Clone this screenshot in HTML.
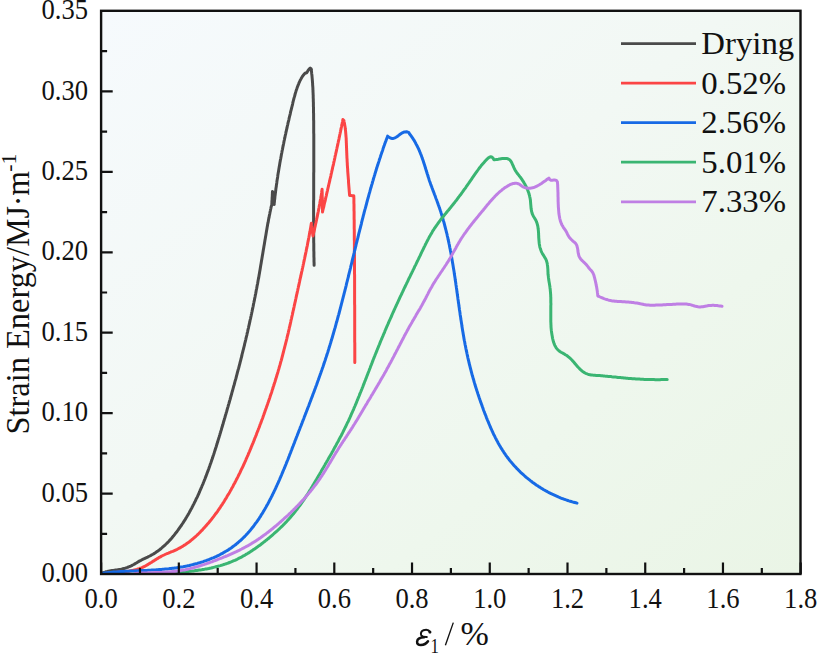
<!DOCTYPE html>
<html><head><meta charset="utf-8"><style>
html,body{margin:0;padding:0;background:#fff;width:817px;height:655px;overflow:hidden}
svg{display:block}
text{font-family:"Liberation Serif",serif;fill:#111}
</style></head><body>
<svg width="817" height="655" viewBox="0 0 817 655">
<defs><linearGradient id="bg" x1="0" y1="0" x2="1" y2="1">
<stop offset="0" stop-color="#f6fafd"/><stop offset="0.45" stop-color="#f2f8f4"/><stop offset="0.7" stop-color="#eef7ed"/><stop offset="1" stop-color="#eaf5e6"/></linearGradient></defs>
<rect x="101" y="10.5" width="700" height="563.5" fill="url(#bg)"/>
<g fill="none" stroke-width="3.0" stroke-linejoin="round" stroke-linecap="round">
<path d="M101.5,573.3 L102.6,572.8 L103.8,572.4 L104.9,572.1 L106.1,571.7 L107.3,571.5 L108.4,571.2 L109.6,571.0 L110.8,570.8 L112.0,570.6 L113.3,570.5 L114.5,570.3 L115.7,570.1 L116.9,570.0 L118.1,569.8 L119.3,569.6 L120.5,569.4 L121.7,569.1 L122.8,568.8 L124.0,568.5 L125.1,568.2 L126.2,567.8 L127.4,567.4 L128.5,567.0 L129.5,566.5 L130.6,566.1 L131.7,565.6 L132.7,565.0 L133.8,564.5 L134.8,563.9 L135.8,563.3 L136.8,562.7 L137.9,562.0 L138.9,561.4 L139.9,560.8 L141.0,560.3 L142.1,559.7 L143.2,559.2 L144.3,558.7 L145.4,558.1 L146.5,557.6 L147.6,557.1 L148.7,556.5 L149.8,556.0 L150.9,555.4 L151.9,554.8 L153.0,554.2 L154.0,553.6 L155.0,553.0 L156.0,552.3 L157.0,551.6 L158.0,550.9 L158.9,550.2 L159.9,549.5 L160.8,548.8 L161.7,548.0 L162.6,547.2 L163.5,546.4 L164.4,545.6 L165.3,544.8 L166.1,544.0 L167.0,543.2 L167.8,542.3 L168.7,541.5 L169.5,540.6 L170.3,539.7 L171.1,538.8 L171.9,537.9 L172.6,537.0 L173.4,536.1 L174.2,535.1 L174.9,534.2 L175.6,533.2 L176.4,532.3 L177.1,531.3 L177.8,530.4 L178.5,529.4 L179.2,528.4 L179.9,527.4 L180.6,526.4 L181.3,525.5 L181.9,524.5 L182.6,523.5 L183.3,522.4 L183.9,521.4 L184.6,520.4 L185.2,519.4 L185.8,518.4 L186.5,517.3 L187.1,516.3 L187.7,515.3 L188.3,514.2 L188.9,513.2 L189.5,512.1 L190.1,511.1 L190.6,510.0 L191.2,508.9 L191.8,507.9 L192.3,506.8 L192.9,505.7 L193.4,504.7 L194.0,503.6 L194.5,502.5 L195.1,501.4 L195.6,500.3 L196.1,499.2 L196.6,498.2 L197.2,497.1 L197.7,496.0 L198.2,494.9 L198.7,493.8 L199.2,492.7 L199.7,491.6 L200.1,490.4 L200.6,489.3 L201.1,488.2 L201.6,487.1 L202.0,486.0 L202.5,484.9 L203.0,483.8 L203.4,482.7 L203.9,481.5 L204.3,480.4 L204.8,479.3 L205.2,478.2 L205.6,477.1 L206.1,475.9 L206.5,474.8 L206.9,473.7 L207.3,472.6 L207.8,471.4 L208.2,470.3 L208.6,469.2 L209.0,468.0 L209.4,466.9 L209.8,465.8 L210.2,464.6 L210.6,463.5 L211.0,462.4 L211.4,461.2 L211.8,460.1 L212.2,458.9 L212.6,457.8 L212.9,456.7 L213.3,455.5 L213.7,454.4 L214.1,453.2 L214.4,452.1 L214.8,450.9 L215.2,449.8 L215.5,448.7 L215.9,447.5 L216.3,446.4 L216.6,445.2 L217.0,444.1 L217.3,442.9 L217.7,441.8 L218.0,440.6 L218.4,439.5 L218.7,438.3 L219.1,437.2 L219.4,436.0 L219.8,434.9 L220.1,433.7 L220.5,432.5 L220.8,431.4 L221.2,430.2 L221.5,429.1 L221.8,427.9 L222.2,426.8 L222.5,425.6 L222.9,424.5 L223.2,423.3 L223.5,422.1 L223.9,421.0 L224.2,419.8 L224.5,418.7 L224.9,417.5 L225.2,416.4 L225.5,415.2 L225.9,414.0 L226.2,412.9 L226.6,411.7 L226.9,410.6 L227.2,409.4 L227.5,408.3 L227.9,407.1 L228.2,405.9 L228.5,404.8 L228.9,403.6 L229.2,402.5 L229.5,401.3 L229.9,400.1 L230.2,399.0 L230.5,397.8 L230.8,396.7 L231.2,395.5 L231.5,394.3 L231.8,393.2 L232.1,392.0 L232.5,390.8 L232.8,389.7 L233.1,388.5 L233.4,387.4 L233.7,386.2 L234.1,385.0 L234.4,383.9 L234.7,382.7 L235.0,381.5 L235.3,380.4 L235.7,379.2 L236.0,378.1 L236.3,376.9 L236.6,375.7 L236.9,374.6 L237.2,373.4 L237.5,372.2 L237.8,371.1 L238.1,369.9 L238.5,368.7 L238.8,367.6 L239.1,366.4 L239.4,365.2 L239.7,364.1 L240.0,362.9 L240.3,361.7 L240.6,360.6 L240.9,359.4 L241.2,358.2 L241.5,357.1 L241.8,355.9 L242.0,354.7 L242.3,353.5 L242.6,352.4 L242.9,351.2 L243.2,350.0 L243.5,348.9 L243.8,347.7 L244.1,346.5 L244.4,345.4 L244.6,344.2 L244.9,343.0 L245.2,341.8 L245.5,340.7 L245.8,339.5 L246.0,338.3 L246.3,337.2 L246.6,336.0 L246.9,334.8 L247.1,333.6 L247.4,332.5 L247.7,331.3 L247.9,330.1 L248.2,328.9 L248.5,327.8 L248.7,326.6 L249.0,325.4 L249.3,324.2 L249.5,323.1 L249.8,321.9 L250.0,320.7 L250.3,319.5 L250.6,318.3 L250.8,317.2 L251.1,316.0 L251.3,314.8 L251.6,313.6 L251.8,312.5 L252.1,311.3 L252.3,310.1 L252.6,308.9 L252.8,307.7 L253.1,306.6 L253.3,305.4 L253.5,304.2 L253.8,303.0 L254.0,301.8 L254.3,300.7 L254.5,299.5 L254.7,298.3 L255.0,297.1 L255.2,295.9 L255.4,294.8 L255.7,293.6 L255.9,292.4 L256.1,291.2 L256.3,290.0 L256.6,288.8 L256.8,287.7 L257.0,286.5 L257.2,285.3 L257.5,284.1 L257.7,282.9 L257.9,281.7 L258.1,280.5 L258.3,279.4 L258.6,278.2 L258.8,277.0 L259.0,275.8 L259.2,274.6 L259.4,273.4 L259.6,272.2 L259.8,271.0 L260.0,269.9 L260.2,268.7 L260.4,267.5 L260.6,266.3 L260.8,265.1 L261.0,263.9 L261.2,262.7 L261.4,261.5 L261.6,260.3 L261.8,259.2 L262.0,258.0 L262.2,256.8 L262.4,255.6 L262.6,254.4 L262.8,253.2 L263.0,252.0 L263.2,250.8 L263.4,249.6 L263.6,248.5 L263.8,247.3 L264.0,246.1 L264.2,244.9 L264.4,243.7 L264.6,242.5 L264.8,241.3 L265.0,240.1 L265.2,238.9 L265.4,237.8 L265.6,236.6 L265.8,235.4 L266.0,234.2 L266.2,233.0 L266.4,231.8 L266.6,230.6 L266.8,229.5 L267.0,228.3 L267.2,227.1 L267.4,225.9 L267.6,224.7 L267.8,223.6 L268.1,222.4 L268.3,221.2 L268.5,220.0 L268.7,218.8 L269.0,217.7 L269.2,216.5 L269.4,215.3 L269.7,214.1 L269.9,213.0 L270.1,211.8 L270.4,210.6 L270.6,209.5 L270.9,208.3 L271.1,207.1 L271.4,206.0 L271.8,204.9 L271.8,203.8 L271.9,202.7 L271.9,201.5 L272.0,200.4 L272.1,199.3 L272.1,198.2 L272.2,197.1 L272.3,196.0 L272.3,194.8 L272.4,193.7 L272.4,192.6 L272.5,191.5 L272.6,192.6 L272.8,193.7 L272.9,194.8 L273.1,195.8 L273.2,196.9 L273.4,198.0 L273.5,199.1 L273.6,200.2 L273.8,201.2 L273.9,202.3 L274.1,203.4 L274.2,204.5 L274.2,203.3 L274.4,202.1 L274.5,200.9 L274.6,199.7 L274.8,198.4 L274.9,197.2 L275.0,196.0 L275.2,194.8 L275.3,193.6 L275.5,192.4 L275.6,191.2 L275.8,190.0 L275.9,188.7 L276.1,187.5 L276.3,186.3 L276.4,185.1 L276.6,183.9 L276.8,182.7 L276.9,181.5 L277.1,180.3 L277.3,179.1 L277.5,177.9 L277.7,176.7 L277.8,175.5 L278.0,174.3 L278.2,173.1 L278.4,171.9 L278.6,170.7 L278.8,169.5 L279.0,168.3 L279.2,167.1 L279.4,165.9 L279.6,164.7 L279.8,163.5 L280.0,162.3 L280.2,161.2 L280.4,160.0 L280.7,158.8 L280.9,157.6 L281.1,156.4 L281.3,155.2 L281.5,154.0 L281.8,152.8 L282.0,151.6 L282.2,150.4 L282.5,149.3 L282.7,148.1 L282.9,146.9 L283.2,145.7 L283.4,144.5 L283.7,143.3 L283.9,142.1 L284.1,140.9 L284.4,139.8 L284.6,138.6 L284.9,137.4 L285.1,136.2 L285.4,135.0 L285.7,133.8 L285.9,132.6 L286.2,131.4 L286.4,130.3 L286.7,129.1 L287.0,127.9 L287.2,126.7 L287.5,125.5 L287.8,124.3 L288.0,123.1 L288.3,121.9 L288.6,120.8 L288.9,119.6 L289.1,118.4 L289.4,117.2 L289.7,116.0 L290.0,114.8 L290.3,113.6 L290.5,112.4 L290.8,111.2 L291.1,110.1 L291.4,108.9 L291.7,107.7 L292.0,106.5 L292.3,105.3 L292.6,104.1 L292.8,102.9 L293.1,101.7 L293.4,100.5 L293.7,99.3 L294.0,98.1 L294.4,96.9 L294.7,95.8 L295.0,94.6 L295.3,93.4 L295.7,92.2 L296.0,91.1 L296.4,89.9 L296.8,88.8 L297.2,87.6 L297.6,86.5 L298.0,85.4 L298.5,84.3 L298.9,83.2 L299.4,82.1 L299.9,81.0 L300.4,79.9 L301.0,78.9 L301.5,77.9 L302.1,76.9 L302.8,75.9 L303.5,75.0 L304.2,74.1 L305.0,73.3 L306.6,72.8 L307.4,71.6 L308.2,70.3 L309.1,69.0 L310.2,68.0 L311.2,68.9 L311.3,70.1 L311.5,71.3 L311.6,72.5 L311.7,73.7 L311.9,74.9 L312.0,76.1 L312.1,77.3 L312.2,78.5 L312.3,79.7 L312.4,80.9 L312.5,82.1 L312.6,83.3 L312.6,84.5 L312.7,85.7 L312.8,86.9 L312.9,88.1 L312.9,89.3 L313.0,90.5 L313.0,91.8 L313.1,93.0 L313.1,94.2 L313.2,95.4 L313.2,96.6 L313.2,97.8 L313.3,99.0 L313.3,100.2 L313.3,101.4 L313.4,102.6 L313.4,103.9 L313.4,105.1 L313.4,106.3 L313.5,107.5 L313.5,108.7 L313.5,109.9 L313.5,111.1 L313.5,112.3 L313.6,113.6 L313.6,114.8 L313.6,116.0 L313.6,117.2 L313.6,118.4 L313.6,119.6 L313.7,120.8 L313.7,122.1 L313.7,123.3 L313.7,124.5 L313.7,125.7 L313.7,126.9 L313.7,128.1 L313.7,129.3 L313.7,130.6 L313.7,131.8 L313.7,133.0 L313.8,134.2 L313.8,135.4 L313.8,136.6 L313.8,137.8 L313.8,139.0 L313.8,140.3 L313.8,141.5 L313.8,142.7 L313.8,143.9 L313.8,145.1 L313.8,146.3 L313.8,147.5 L313.8,148.8 L313.8,150.0 L313.8,151.2 L313.8,152.4 L313.8,153.6 L313.8,154.8 L313.8,156.0 L313.8,157.3 L313.8,158.5 L313.8,159.7 L313.8,160.9 L313.8,162.1 L313.8,163.3 L313.8,164.6 L313.8,165.8 L313.8,167.0 L313.8,168.2 L313.8,169.4 L313.8,170.6 L313.8,171.8 L313.7,173.1 L313.7,174.3 L313.7,175.5 L313.7,176.7 L313.7,177.9 L313.7,179.1 L313.7,180.3 L313.7,181.6 L313.7,182.8 L313.7,184.0 L313.7,185.2 L313.7,186.4 L313.7,187.6 L313.7,188.8 L313.7,190.1 L313.7,191.3 L313.7,192.5 L313.7,193.7 L313.7,194.9 L313.7,196.1 L313.7,197.3 L313.7,198.6 L313.7,199.8 L313.6,201.0 L313.6,202.2 L313.6,203.4 L313.6,204.6 L313.6,205.8 L313.6,207.1 L313.6,208.3 L313.6,209.5 L313.6,210.7 L313.6,211.9 L313.6,213.1 L313.6,214.3 L313.6,215.6 L313.6,216.8 L313.6,218.0 L313.6,219.2 L313.6,220.4 L313.6,221.6 L313.6,222.8 L313.6,224.1 L313.6,225.3 L313.6,226.5 L313.7,227.7 L313.7,228.9 L313.7,230.1 L313.7,231.3 L313.7,232.6 L313.7,233.8 L313.7,235.0 L313.7,236.2 L313.7,237.4 L313.7,238.6 L313.7,239.8 L313.7,241.0 L313.7,242.3 L313.8,243.5 L313.8,244.7 L313.8,245.9 L313.8,247.1 L313.8,248.3 L313.8,249.5 L313.8,250.7 L313.9,252.0 L313.9,253.2 L313.9,254.4 L313.9,255.6 L313.9,256.8 L314.0,258.0 L314.0,259.2 L314.0,260.4 L314.0,261.7 L314.1,262.9 L314.1,264.1 L314.1,265.3" stroke="#4a4a4a"/>
<path d="M107.0,573.2 L108.2,573.0 L109.3,572.9 L110.5,572.8 L111.7,572.7 L112.9,572.6 L114.1,572.5 L115.3,572.4 L116.5,572.3 L117.7,572.2 L118.9,572.1 L120.1,572.0 L121.4,571.9 L122.6,571.8 L123.8,571.7 L125.0,571.6 L126.2,571.5 L127.5,571.3 L128.7,571.2 L129.9,571.0 L131.1,570.8 L132.2,570.6 L133.4,570.3 L134.6,570.0 L135.7,569.7 L136.9,569.4 L138.0,569.0 L139.2,568.7 L140.3,568.2 L141.4,567.8 L142.5,567.3 L143.5,566.8 L144.6,566.3 L145.7,565.8 L146.7,565.2 L147.7,564.6 L148.7,564.0 L149.7,563.4 L150.7,562.8 L151.7,562.2 L152.7,561.5 L153.7,560.9 L154.7,560.2 L155.7,559.6 L156.7,559.0 L157.7,558.4 L158.7,557.7 L159.8,557.2 L160.8,556.6 L161.8,556.0 L162.9,555.5 L164.0,555.0 L165.0,554.5 L166.1,554.0 L167.2,553.5 L168.4,553.1 L169.5,552.6 L170.6,552.2 L171.7,551.7 L172.8,551.3 L173.9,550.8 L175.0,550.3 L176.1,549.8 L177.2,549.3 L178.3,548.7 L179.4,548.2 L180.4,547.6 L181.4,547.0 L182.5,546.4 L183.5,545.8 L184.5,545.1 L185.5,544.5 L186.5,543.8 L187.5,543.1 L188.4,542.4 L189.4,541.7 L190.3,541.0 L191.3,540.2 L192.2,539.4 L193.1,538.7 L194.0,537.9 L194.9,537.1 L195.8,536.3 L196.7,535.5 L197.6,534.6 L198.5,533.8 L199.3,533.0 L200.2,532.1 L201.0,531.2 L201.9,530.4 L202.7,529.5 L203.5,528.6 L204.3,527.7 L205.1,526.8 L206.0,525.9 L206.7,525.0 L207.5,524.1 L208.3,523.2 L209.1,522.3 L209.9,521.3 L210.6,520.4 L211.4,519.5 L212.1,518.5 L212.8,517.6 L213.6,516.6 L214.3,515.6 L215.0,514.7 L215.7,513.7 L216.5,512.7 L217.2,511.8 L217.9,510.8 L218.5,509.8 L219.2,508.8 L219.9,507.8 L220.6,506.8 L221.2,505.8 L221.9,504.8 L222.6,503.8 L223.2,502.8 L223.9,501.8 L224.5,500.8 L225.1,499.7 L225.8,498.7 L226.4,497.7 L227.0,496.6 L227.6,495.6 L228.2,494.6 L228.9,493.5 L229.5,492.5 L230.1,491.4 L230.6,490.4 L231.2,489.4 L231.8,488.3 L232.4,487.3 L233.0,486.2 L233.5,485.1 L234.1,484.1 L234.7,483.0 L235.2,482.0 L235.8,480.9 L236.3,479.8 L236.9,478.8 L237.4,477.7 L238.0,476.6 L238.5,475.5 L239.0,474.5 L239.6,473.4 L240.1,472.3 L240.6,471.2 L241.1,470.1 L241.6,469.0 L242.2,468.0 L242.7,466.9 L243.2,465.8 L243.7,464.7 L244.2,463.6 L244.7,462.5 L245.2,461.4 L245.7,460.3 L246.1,459.2 L246.6,458.1 L247.1,457.0 L247.6,455.9 L248.1,454.8 L248.5,453.7 L249.0,452.6 L249.5,451.5 L249.9,450.4 L250.4,449.3 L250.9,448.2 L251.3,447.0 L251.8,445.9 L252.2,444.8 L252.7,443.7 L253.2,442.6 L253.6,441.5 L254.1,440.4 L254.5,439.2 L254.9,438.1 L255.4,437.0 L255.8,435.9 L256.3,434.8 L256.7,433.6 L257.1,432.5 L257.6,431.4 L258.0,430.3 L258.4,429.1 L258.9,428.0 L259.3,426.9 L259.7,425.8 L260.1,424.6 L260.6,423.5 L261.0,422.4 L261.4,421.3 L261.8,420.1 L262.3,419.0 L262.7,417.9 L263.1,416.7 L263.5,415.6 L263.9,414.5 L264.3,413.3 L264.7,412.2 L265.1,411.1 L265.5,409.9 L265.9,408.8 L266.3,407.7 L266.7,406.5 L267.1,405.4 L267.5,404.3 L267.9,403.1 L268.3,402.0 L268.7,400.8 L269.1,399.7 L269.5,398.6 L269.9,397.4 L270.2,396.3 L270.6,395.1 L271.0,394.0 L271.4,392.9 L271.8,391.7 L272.1,390.6 L272.5,389.4 L272.9,388.3 L273.2,387.1 L273.6,386.0 L274.0,384.8 L274.3,383.7 L274.7,382.5 L275.1,381.4 L275.4,380.2 L275.8,379.1 L276.1,377.9 L276.5,376.8 L276.8,375.6 L277.2,374.5 L277.5,373.3 L277.9,372.2 L278.2,371.0 L278.5,369.9 L278.9,368.7 L279.2,367.6 L279.5,366.4 L279.9,365.2 L280.2,364.1 L280.5,362.9 L280.8,361.8 L281.2,360.6 L281.5,359.5 L281.8,358.3 L282.1,357.1 L282.4,356.0 L282.7,354.8 L283.0,353.6 L283.3,352.5 L283.6,351.3 L283.9,350.2 L284.2,349.0 L284.5,347.8 L284.8,346.7 L285.1,345.5 L285.4,344.3 L285.7,343.2 L286.0,342.0 L286.3,340.8 L286.6,339.7 L286.9,338.5 L287.1,337.3 L287.4,336.1 L287.7,335.0 L288.0,333.8 L288.3,332.6 L288.5,331.5 L288.8,330.3 L289.1,329.1 L289.3,327.9 L289.6,326.8 L289.9,325.6 L290.2,324.4 L290.4,323.3 L290.7,322.1 L290.9,320.9 L291.2,319.7 L291.5,318.6 L291.7,317.4 L292.0,316.2 L292.3,315.0 L292.5,313.9 L292.8,312.7 L293.0,311.5 L293.3,310.3 L293.6,309.2 L293.8,308.0 L294.1,306.8 L294.3,305.6 L294.6,304.5 L294.8,303.3 L295.1,302.1 L295.4,300.9 L295.6,299.7 L295.9,298.6 L296.1,297.4 L296.4,296.2 L296.6,295.0 L296.9,293.9 L297.2,292.7 L297.4,291.5 L297.7,290.3 L297.9,289.2 L298.2,288.0 L298.4,286.8 L298.7,285.6 L299.0,284.5 L299.2,283.3 L299.5,282.1 L299.7,280.9 L300.0,279.7 L300.2,278.6 L300.5,277.4 L300.8,276.2 L301.0,275.0 L301.3,273.9 L301.5,272.7 L301.8,271.5 L302.1,270.3 L302.3,269.2 L302.6,268.0 L302.8,266.8 L303.1,265.6 L303.3,264.5 L303.6,263.3 L303.8,262.1 L304.1,260.9 L304.3,259.7 L304.6,258.6 L304.8,257.4 L305.1,256.2 L305.3,255.0 L305.6,253.9 L305.8,252.7 L306.1,251.5 L306.3,250.3 L306.5,249.1 L306.8,248.0 L307.0,246.8 L307.3,245.6 L307.5,244.4 L307.7,243.2 L307.9,242.1 L308.2,240.9 L308.4,239.7 L308.6,238.5 L308.9,237.3 L309.1,236.2 L309.3,235.0 L309.5,233.8 L309.7,232.6 L310.0,231.4 L310.2,230.3 L310.4,229.1 L310.6,227.9 L310.8,226.7 L311.0,225.5 L311.2,224.3 L311.4,223.2 L311.3,224.2 L311.4,225.2 L311.6,226.3 L311.7,227.4 L311.9,228.5 L312.1,229.6 L312.2,230.6 L312.4,231.7 L312.5,232.8 L312.7,233.8 L312.8,234.9 L313.0,236.0 L313.3,234.8 L313.5,233.5 L313.8,232.3 L314.1,231.1 L314.4,229.9 L314.6,228.6 L314.9,227.4 L315.2,226.2 L315.4,225.0 L315.7,223.7 L316.0,222.5 L316.2,221.3 L316.5,220.1 L316.7,218.8 L317.0,217.6 L317.3,216.4 L317.5,215.1 L317.8,213.9 L318.0,212.7 L318.3,211.5 L318.5,210.2 L318.7,209.0 L319.0,207.8 L319.2,206.5 L319.4,205.3 L319.7,204.1 L319.9,202.8 L320.1,201.6 L320.3,200.4 L320.6,199.1 L320.8,197.9 L321.0,196.6 L321.2,195.4 L321.4,194.2 L321.6,192.9 L321.7,191.7 L321.9,190.4 L322.1,189.2 L322.1,190.3 L322.1,191.4 L322.2,192.5 L322.2,193.6 L322.2,194.7 L322.2,195.7 L322.2,196.8 L322.3,197.9 L322.3,199.0 L322.3,200.1 L322.3,201.2 L322.3,202.3 L322.3,203.4 L322.4,204.5 L322.4,205.6 L322.4,206.6 L322.4,207.7 L322.4,208.8 L322.5,209.9 L322.5,211.0 L322.5,212.1 L322.7,210.9 L323.0,209.7 L323.3,208.5 L323.6,207.3 L323.9,206.1 L324.1,204.9 L324.4,203.7 L324.7,202.5 L325.0,201.3 L325.3,200.1 L325.5,198.9 L325.8,197.7 L326.1,196.5 L326.4,195.3 L326.6,194.1 L326.9,192.9 L327.2,191.7 L327.5,190.5 L327.7,189.3 L328.0,188.1 L328.3,186.9 L328.6,185.7 L328.8,184.5 L329.1,183.3 L329.4,182.1 L329.7,180.9 L329.9,179.7 L330.2,178.5 L330.5,177.3 L330.8,176.1 L331.0,174.9 L331.3,173.7 L331.6,172.5 L331.8,171.3 L332.1,170.1 L332.4,168.9 L332.6,167.7 L332.9,166.5 L333.2,165.3 L333.5,164.1 L333.7,162.9 L334.0,161.7 L334.3,160.5 L334.5,159.3 L334.8,158.1 L335.0,156.9 L335.3,155.7 L335.6,154.5 L335.8,153.3 L336.1,152.1 L336.4,150.9 L336.6,149.7 L336.9,148.5 L337.1,147.3 L337.4,146.1 L337.7,144.9 L337.9,143.7 L338.2,142.5 L338.4,141.3 L338.7,140.1 L339.0,138.8 L339.2,137.6 L339.5,136.4 L339.7,135.2 L340.0,134.0 L340.2,132.8 L340.5,131.6 L340.7,130.4 L341.0,129.2 L341.2,128.0 L341.5,126.8 L341.7,125.6 L342.0,124.4 L342.2,123.2 L342.5,122.0 L342.7,120.8 L342.9,119.6 L343.9,120.6 L344.1,121.8 L344.4,123.0 L344.6,124.2 L344.8,125.4 L345.0,126.6 L345.2,127.8 L345.3,129.0 L345.5,130.2 L345.6,131.4 L345.7,132.6 L345.8,133.8 L345.9,135.1 L346.0,136.3 L346.1,137.5 L346.2,138.7 L346.2,140.0 L346.3,141.2 L346.3,142.4 L346.4,143.7 L346.4,144.9 L346.5,146.1 L346.5,147.4 L346.6,148.6 L346.6,149.8 L346.7,151.1 L346.7,152.3 L346.8,153.6 L346.8,154.8 L346.9,156.0 L346.9,157.3 L347.0,158.5 L347.1,159.7 L347.1,161.0 L347.2,162.2 L347.3,163.5 L347.3,164.7 L347.4,165.9 L347.5,167.2 L347.6,168.4 L347.7,169.6 L347.7,170.9 L347.8,172.1 L347.9,173.3 L348.0,174.6 L348.1,175.8 L348.2,177.0 L348.3,178.3 L348.4,179.5 L348.5,180.7 L348.5,182.0 L348.6,183.2 L348.7,184.4 L348.8,185.7 L348.9,186.9 L349.0,188.1 L349.1,189.3 L349.2,190.6 L349.3,191.8 L349.4,193.0 L349.5,194.3 L349.6,195.5 L350.9,195.6 L352.4,195.7 L353.8,195.8 L353.8,197.0 L353.9,198.2 L353.9,199.4 L353.9,200.7 L353.9,201.9 L353.9,203.1 L354.0,204.3 L354.0,205.5 L354.0,206.7 L354.0,208.0 L354.0,209.2 L354.0,210.4 L354.1,211.6 L354.1,212.8 L354.1,214.1 L354.1,215.3 L354.1,216.5 L354.1,217.7 L354.1,218.9 L354.2,220.1 L354.2,221.4 L354.2,222.6 L354.2,223.8 L354.2,225.0 L354.2,226.2 L354.2,227.4 L354.2,228.7 L354.3,229.9 L354.3,231.1 L354.3,232.3 L354.3,233.5 L354.3,234.7 L354.3,236.0 L354.3,237.2 L354.3,238.4 L354.3,239.6 L354.4,240.8 L354.4,242.0 L354.4,243.3 L354.4,244.5 L354.4,245.7 L354.4,246.9 L354.4,248.1 L354.4,249.3 L354.4,250.6 L354.4,251.8 L354.4,253.0 L354.4,254.2 L354.5,255.4 L354.5,256.6 L354.5,257.9 L354.5,259.1 L354.5,260.3 L354.5,261.5 L354.5,262.7 L354.5,263.9 L354.5,265.2 L354.5,266.4 L354.5,267.6 L354.5,268.8 L354.5,270.0 L354.5,271.2 L354.5,272.5 L354.5,273.7 L354.6,274.9 L354.6,276.1 L354.6,277.3 L354.6,278.5 L354.6,279.8 L354.6,281.0 L354.6,282.2 L354.6,283.4 L354.6,284.6 L354.6,285.8 L354.6,287.1 L354.6,288.3 L354.6,289.5 L354.6,290.7 L354.6,291.9 L354.6,293.1 L354.6,294.4 L354.6,295.6 L354.6,296.8 L354.6,298.0 L354.6,299.2 L354.6,300.4 L354.6,301.7 L354.6,302.9 L354.6,304.1 L354.7,305.3 L354.7,306.5 L354.7,307.7 L354.7,309.0 L354.7,310.2 L354.7,311.4 L354.7,312.6 L354.7,313.8 L354.7,315.0 L354.7,316.3 L354.7,317.5 L354.7,318.7 L354.7,319.9 L354.7,321.1 L354.7,322.3 L354.7,323.6 L354.7,324.8 L354.7,326.0 L354.7,327.2 L354.7,328.4 L354.7,329.6 L354.7,330.9 L354.7,332.1 L354.7,333.3 L354.7,334.5 L354.7,335.7 L354.7,336.9 L354.7,338.2 L354.7,339.4 L354.7,340.6 L354.7,341.8 L354.8,343.0 L354.8,344.2 L354.8,345.5 L354.8,346.7 L354.8,347.9 L354.8,349.1 L354.8,350.3 L354.8,351.5 L354.8,352.8 L354.8,354.0 L354.8,355.2 L354.8,356.4 L354.8,357.6 L354.8,358.8 L354.8,360.1 L354.8,361.3 L354.8,362.5" stroke="#fb4545"/>
<path d="M101.7,573.4 L102.9,573.3 L104.0,573.1 L105.2,573.0 L106.3,572.8 L107.5,572.7 L108.7,572.6 L109.8,572.5 L111.0,572.4 L112.2,572.2 L113.3,572.1 L114.5,572.0 L115.7,572.0 L116.9,571.9 L118.1,571.8 L119.2,571.7 L120.4,571.6 L121.6,571.5 L122.8,571.5 L124.0,571.4 L125.2,571.3 L126.4,571.3 L127.6,571.2 L128.8,571.2 L130.0,571.1 L131.2,571.0 L132.4,571.0 L133.6,570.9 L134.8,570.9 L136.0,570.8 L137.2,570.8 L138.4,570.7 L139.6,570.7 L140.8,570.6 L142.1,570.6 L143.3,570.5 L144.5,570.5 L145.7,570.4 L146.9,570.4 L148.1,570.3 L149.3,570.2 L150.6,570.2 L151.8,570.1 L153.0,570.0 L154.2,570.0 L155.4,569.9 L156.6,569.8 L157.8,569.7 L159.1,569.6 L160.3,569.5 L161.5,569.4 L162.7,569.3 L163.9,569.2 L165.1,569.1 L166.4,569.0 L167.6,568.9 L168.8,568.8 L170.0,568.6 L171.2,568.5 L172.4,568.3 L173.6,568.2 L174.8,568.0 L176.0,567.9 L177.2,567.7 L178.4,567.5 L179.6,567.3 L180.8,567.1 L182.0,566.9 L183.2,566.7 L184.4,566.4 L185.6,566.2 L186.8,566.0 L188.0,565.7 L189.2,565.5 L190.4,565.2 L191.6,564.9 L192.7,564.6 L193.9,564.3 L195.1,564.0 L196.2,563.7 L197.4,563.4 L198.6,563.0 L199.7,562.7 L200.9,562.3 L202.0,562.0 L203.2,561.6 L204.3,561.2 L205.4,560.8 L206.6,560.4 L207.7,560.0 L208.8,559.6 L209.9,559.1 L211.0,558.7 L212.1,558.2 L213.2,557.8 L214.3,557.3 L215.4,556.8 L216.5,556.3 L217.5,555.8 L218.6,555.3 L219.7,554.8 L220.7,554.2 L221.8,553.7 L222.8,553.1 L223.8,552.5 L224.8,551.9 L225.9,551.3 L226.9,550.7 L227.9,550.1 L228.9,549.5 L229.8,548.8 L230.8,548.2 L231.8,547.5 L232.7,546.8 L233.7,546.1 L234.6,545.4 L235.5,544.7 L236.4,544.0 L237.3,543.2 L238.2,542.5 L239.1,541.7 L240.0,540.9 L240.9,540.2 L241.7,539.4 L242.6,538.5 L243.4,537.7 L244.3,536.9 L245.1,536.0 L245.9,535.2 L246.7,534.3 L247.5,533.5 L248.3,532.6 L249.1,531.7 L249.8,530.8 L250.6,529.9 L251.4,528.9 L252.1,528.0 L252.9,527.1 L253.6,526.1 L254.3,525.2 L255.0,524.2 L255.7,523.2 L256.4,522.3 L257.1,521.3 L257.8,520.3 L258.5,519.3 L259.2,518.3 L259.8,517.3 L260.5,516.3 L261.1,515.2 L261.8,514.2 L262.4,513.2 L263.1,512.1 L263.7,511.1 L264.3,510.0 L264.9,509.0 L265.5,507.9 L266.1,506.9 L266.7,505.8 L267.3,504.7 L267.9,503.7 L268.5,502.6 L269.1,501.5 L269.6,500.4 L270.2,499.3 L270.8,498.2 L271.3,497.1 L271.9,496.0 L272.4,495.0 L272.9,493.9 L273.5,492.8 L274.0,491.7 L274.5,490.6 L275.1,489.5 L275.6,488.4 L276.1,487.2 L276.6,486.1 L277.1,485.0 L277.6,483.9 L278.1,482.8 L278.6,481.7 L279.1,480.6 L279.6,479.5 L280.0,478.4 L280.5,477.3 L281.0,476.2 L281.5,475.1 L281.9,474.0 L282.4,472.8 L282.9,471.7 L283.3,470.6 L283.8,469.5 L284.3,468.4 L284.7,467.3 L285.2,466.2 L285.6,465.1 L286.1,464.0 L286.5,462.8 L287.0,461.7 L287.4,460.6 L287.9,459.5 L288.3,458.4 L288.7,457.3 L289.2,456.1 L289.6,455.0 L290.0,453.9 L290.5,452.8 L290.9,451.7 L291.3,450.6 L291.8,449.5 L292.2,448.3 L292.6,447.2 L293.1,446.1 L293.5,445.0 L293.9,443.9 L294.4,442.8 L294.8,441.6 L295.2,440.5 L295.7,439.4 L296.1,438.3 L296.5,437.2 L297.0,436.0 L297.4,434.9 L297.8,433.8 L298.3,432.7 L298.7,431.6 L299.1,430.5 L299.6,429.3 L300.0,428.2 L300.4,427.1 L300.9,426.0 L301.3,424.9 L301.7,423.8 L302.2,422.6 L302.6,421.5 L303.0,420.4 L303.5,419.3 L303.9,418.2 L304.3,417.0 L304.8,415.9 L305.2,414.8 L305.6,413.7 L306.1,412.6 L306.5,411.4 L306.9,410.3 L307.4,409.2 L307.8,408.1 L308.2,407.0 L308.7,405.8 L309.1,404.7 L309.5,403.6 L309.9,402.5 L310.4,401.4 L310.8,400.2 L311.2,399.1 L311.6,398.0 L312.1,396.9 L312.5,395.7 L312.9,394.6 L313.3,393.5 L313.8,392.4 L314.2,391.2 L314.6,390.1 L315.0,389.0 L315.4,387.9 L315.8,386.7 L316.3,385.6 L316.7,384.5 L317.1,383.3 L317.5,382.2 L317.9,381.1 L318.3,380.0 L318.7,378.8 L319.1,377.7 L319.5,376.6 L319.9,375.4 L320.3,374.3 L320.7,373.2 L321.1,372.0 L321.5,370.9 L321.9,369.8 L322.3,368.6 L322.7,367.5 L323.1,366.4 L323.5,365.2 L323.9,364.1 L324.2,363.0 L324.6,361.8 L325.0,360.7 L325.4,359.5 L325.7,358.4 L326.1,357.3 L326.5,356.1 L326.9,355.0 L327.2,353.8 L327.6,352.7 L328.0,351.5 L328.3,350.4 L328.7,349.2 L329.0,348.1 L329.4,347.0 L329.7,345.8 L330.1,344.7 L330.4,343.5 L330.8,342.4 L331.1,341.2 L331.5,340.1 L331.8,338.9 L332.2,337.8 L332.5,336.6 L332.8,335.5 L333.2,334.3 L333.5,333.1 L333.8,332.0 L334.2,330.8 L334.5,329.7 L334.8,328.5 L335.2,327.4 L335.5,326.2 L335.8,325.1 L336.1,323.9 L336.4,322.7 L336.8,321.6 L337.1,320.4 L337.4,319.3 L337.7,318.1 L338.0,317.0 L338.3,315.8 L338.7,314.6 L339.0,313.5 L339.3,312.3 L339.6,311.1 L339.9,310.0 L340.2,308.8 L340.5,307.7 L340.8,306.5 L341.1,305.3 L341.4,304.2 L341.7,303.0 L342.0,301.8 L342.3,300.7 L342.6,299.5 L342.9,298.4 L343.2,297.2 L343.5,296.0 L343.8,294.9 L344.1,293.7 L344.4,292.5 L344.7,291.4 L345.0,290.2 L345.3,289.0 L345.6,287.9 L345.9,286.7 L346.2,285.5 L346.4,284.4 L346.7,283.2 L347.0,282.0 L347.3,280.9 L347.6,279.7 L347.9,278.5 L348.2,277.3 L348.5,276.2 L348.7,275.0 L349.0,273.8 L349.3,272.7 L349.6,271.5 L349.9,270.3 L350.2,269.2 L350.5,268.0 L350.7,266.8 L351.0,265.7 L351.3,264.5 L351.6,263.3 L351.9,262.1 L352.2,261.0 L352.4,259.8 L352.7,258.6 L353.0,257.5 L353.3,256.3 L353.6,255.1 L353.9,254.0 L354.2,252.8 L354.4,251.6 L354.7,250.5 L355.0,249.3 L355.3,248.1 L355.6,246.9 L355.9,245.8 L356.1,244.6 L356.4,243.4 L356.7,242.3 L357.0,241.1 L357.3,239.9 L357.6,238.8 L357.9,237.6 L358.2,236.4 L358.4,235.3 L358.7,234.1 L359.0,232.9 L359.3,231.8 L359.6,230.6 L359.9,229.4 L360.2,228.3 L360.5,227.1 L360.8,225.9 L361.1,224.8 L361.4,223.6 L361.6,222.4 L361.9,221.3 L362.2,220.1 L362.5,218.9 L362.8,217.8 L363.1,216.6 L363.4,215.4 L363.7,214.3 L364.0,213.1 L364.3,211.9 L364.6,210.8 L364.9,209.6 L365.3,208.4 L365.6,207.3 L365.9,206.1 L366.2,205.0 L366.5,203.8 L366.8,202.6 L367.1,201.5 L367.4,200.3 L367.7,199.2 L368.1,198.0 L368.4,196.8 L368.7,195.7 L369.0,194.5 L369.3,193.4 L369.7,192.2 L370.0,191.0 L370.3,189.9 L370.6,188.7 L371.0,187.6 L371.3,186.4 L371.6,185.3 L372.0,184.1 L372.3,183.0 L372.6,181.8 L373.0,180.6 L373.3,179.5 L373.6,178.3 L374.0,177.2 L374.3,176.0 L374.7,174.9 L375.0,173.7 L375.4,172.6 L375.7,171.4 L376.1,170.3 L376.4,169.1 L376.8,168.0 L377.1,166.8 L377.5,165.7 L377.9,164.6 L378.2,163.4 L378.6,162.3 L379.0,161.1 L379.3,160.0 L379.7,158.8 L380.1,157.7 L380.5,156.5 L380.8,155.4 L381.2,154.3 L381.6,153.1 L382.0,152.0 L382.4,150.9 L382.8,149.7 L383.1,148.6 L383.5,147.4 L383.9,146.3 L384.3,145.2 L384.7,144.0 L385.1,142.9 L385.5,141.8 L386.0,140.6 L386.4,139.5 L386.8,138.4 L387.2,137.3 L387.6,136.1 L389.1,137.3 L390.4,138.0 L391.6,138.4 L392.7,138.4 L393.9,138.2 L395.0,137.8 L396.1,137.2 L397.2,136.5 L398.3,135.7 L399.4,134.8 L400.5,134.0 L401.6,133.3 L402.8,132.6 L404.0,132.1 L405.1,131.9 L406.4,131.8 L407.6,132.0 L408.9,132.6 L409.4,133.7 L410.2,134.7 L410.9,135.7 L411.6,136.7 L412.3,137.7 L413.0,138.7 L413.6,139.7 L414.3,140.7 L414.9,141.8 L415.5,142.8 L416.0,143.9 L416.6,144.9 L417.1,146.0 L417.7,147.1 L418.2,148.1 L418.7,149.2 L419.2,150.3 L419.6,151.4 L420.1,152.5 L420.5,153.6 L421.0,154.7 L421.4,155.8 L421.8,156.9 L422.2,158.1 L422.6,159.2 L423.0,160.3 L423.4,161.4 L423.7,162.6 L424.1,163.7 L424.5,164.8 L424.8,166.0 L425.2,167.1 L425.5,168.3 L425.9,169.4 L426.2,170.6 L426.6,171.7 L426.9,172.8 L427.3,174.0 L427.7,175.1 L428.0,176.3 L428.4,177.4 L428.8,178.6 L429.1,179.7 L429.5,180.9 L429.9,182.0 L430.3,183.1 L430.7,184.3 L431.1,185.4 L431.6,186.5 L432.0,187.7 L432.4,188.8 L432.8,189.9 L433.2,191.1 L433.7,192.2 L434.1,193.3 L434.5,194.5 L435.0,195.6 L435.4,196.7 L435.8,197.9 L436.2,199.0 L436.7,200.1 L437.1,201.3 L437.5,202.4 L437.9,203.5 L438.3,204.7 L438.7,205.8 L439.1,206.9 L439.5,208.1 L439.9,209.2 L440.3,210.4 L440.7,211.5 L441.0,212.7 L441.4,213.8 L441.7,215.0 L442.1,216.1 L442.4,217.3 L442.8,218.4 L443.1,219.6 L443.4,220.7 L443.8,221.9 L444.1,223.0 L444.4,224.2 L444.7,225.4 L445.0,226.5 L445.3,227.7 L445.6,228.8 L445.9,230.0 L446.2,231.2 L446.5,232.3 L446.8,233.5 L447.1,234.7 L447.3,235.8 L447.6,237.0 L447.9,238.2 L448.1,239.4 L448.4,240.5 L448.6,241.7 L448.9,242.9 L449.1,244.0 L449.4,245.2 L449.6,246.4 L449.8,247.6 L450.1,248.8 L450.3,249.9 L450.5,251.1 L450.8,252.3 L451.0,253.5 L451.2,254.7 L451.4,255.8 L451.6,257.0 L451.8,258.2 L452.0,259.4 L452.2,260.6 L452.4,261.8 L452.6,262.9 L452.8,264.1 L453.0,265.3 L453.2,266.5 L453.4,267.7 L453.6,268.9 L453.8,270.1 L454.0,271.3 L454.2,272.4 L454.3,273.6 L454.5,274.8 L454.7,276.0 L454.9,277.2 L455.1,278.4 L455.2,279.6 L455.4,280.8 L455.6,282.0 L455.8,283.2 L455.9,284.4 L456.1,285.5 L456.3,286.7 L456.4,287.9 L456.6,289.1 L456.8,290.3 L456.9,291.5 L457.1,292.7 L457.3,293.9 L457.4,295.1 L457.6,296.3 L457.8,297.5 L457.9,298.7 L458.1,299.9 L458.3,301.1 L458.4,302.3 L458.6,303.4 L458.8,304.6 L458.9,305.8 L459.1,307.0 L459.3,308.2 L459.4,309.4 L459.6,310.6 L459.8,311.8 L460.0,313.0 L460.1,314.2 L460.3,315.4 L460.5,316.6 L460.7,317.8 L460.8,319.0 L461.0,320.1 L461.2,321.3 L461.4,322.5 L461.6,323.7 L461.8,324.9 L461.9,326.1 L462.1,327.3 L462.3,328.5 L462.5,329.7 L462.7,330.9 L462.9,332.0 L463.1,333.2 L463.3,334.4 L463.5,335.6 L463.7,336.8 L463.9,338.0 L464.1,339.2 L464.3,340.3 L464.6,341.5 L464.8,342.7 L465.0,343.9 L465.2,345.1 L465.5,346.2 L465.7,347.4 L465.9,348.6 L466.2,349.8 L466.4,351.0 L466.7,352.1 L466.9,353.3 L467.2,354.5 L467.4,355.7 L467.7,356.8 L467.9,358.0 L468.2,359.2 L468.5,360.4 L468.8,361.5 L469.0,362.7 L469.3,363.9 L469.6,365.0 L469.9,366.2 L470.2,367.4 L470.5,368.5 L470.8,369.7 L471.1,370.9 L471.4,372.0 L471.7,373.2 L472.0,374.3 L472.3,375.5 L472.7,376.7 L473.0,377.8 L473.3,379.0 L473.7,380.1 L474.0,381.3 L474.3,382.4 L474.7,383.6 L475.0,384.8 L475.4,385.9 L475.7,387.1 L476.1,388.2 L476.5,389.4 L476.8,390.5 L477.2,391.6 L477.6,392.8 L477.9,393.9 L478.3,395.1 L478.7,396.2 L479.1,397.4 L479.5,398.5 L479.9,399.7 L480.3,400.8 L480.6,401.9 L481.1,403.1 L481.5,404.2 L481.9,405.3 L482.3,406.5 L482.7,407.6 L483.1,408.7 L483.5,409.9 L483.9,411.0 L484.4,412.1 L484.8,413.3 L485.2,414.4 L485.7,415.5 L486.1,416.6 L486.5,417.8 L487.0,418.9 L487.4,420.0 L487.9,421.1 L488.4,422.2 L488.8,423.4 L489.3,424.5 L489.8,425.6 L490.2,426.7 L490.7,427.8 L491.2,428.9 L491.7,430.0 L492.2,431.1 L492.7,432.2 L493.2,433.3 L493.7,434.4 L494.3,435.4 L494.8,436.5 L495.3,437.6 L495.9,438.7 L496.4,439.7 L497.0,440.8 L497.6,441.8 L498.1,442.9 L498.7,443.9 L499.3,445.0 L499.9,446.0 L500.5,447.0 L501.1,448.1 L501.8,449.1 L502.4,450.1 L503.1,451.1 L503.7,452.1 L504.4,453.1 L505.1,454.1 L505.7,455.1 L506.4,456.0 L507.1,457.0 L507.9,458.0 L508.6,458.9 L509.3,459.9 L510.1,460.8 L510.8,461.7 L511.6,462.6 L512.4,463.6 L513.2,464.5 L514.0,465.4 L514.8,466.3 L515.6,467.1 L516.4,468.0 L517.2,468.9 L518.1,469.7 L518.9,470.6 L519.8,471.4 L520.6,472.3 L521.5,473.1 L522.4,473.9 L523.3,474.7 L524.2,475.5 L525.1,476.3 L526.0,477.1 L526.9,477.9 L527.9,478.7 L528.8,479.4 L529.8,480.2 L530.7,480.9 L531.7,481.6 L532.6,482.4 L533.6,483.1 L534.6,483.8 L535.6,484.5 L536.6,485.2 L537.6,485.8 L538.6,486.5 L539.6,487.1 L540.6,487.8 L541.6,488.4 L542.7,489.0 L543.7,489.7 L544.8,490.3 L545.8,490.9 L546.9,491.4 L547.9,492.0 L549.0,492.6 L550.1,493.1 L551.1,493.7 L552.2,494.2 L553.3,494.7 L554.4,495.2 L555.5,495.7 L556.6,496.2 L557.7,496.7 L558.8,497.2 L559.9,497.6 L561.0,498.1 L562.1,498.5 L563.3,498.9 L564.4,499.3 L565.5,499.7 L566.7,500.1 L567.8,500.5 L568.9,500.9 L570.1,501.2 L571.2,501.5 L572.4,501.9 L573.5,502.2 L574.7,502.5 L575.9,502.8 L577.0,503.1" stroke="#176ae5"/>
<path d="M150.1,573.5 L151.2,573.5 L152.4,573.4 L153.6,573.4 L154.8,573.4 L155.9,573.3 L157.1,573.3 L158.3,573.2 L159.5,573.2 L160.7,573.2 L161.9,573.1 L163.1,573.1 L164.3,573.0 L165.5,573.0 L166.7,572.9 L167.9,572.9 L169.1,572.8 L170.3,572.8 L171.5,572.7 L172.7,572.6 L173.9,572.6 L175.1,572.5 L176.3,572.4 L177.5,572.4 L178.7,572.3 L179.9,572.2 L181.1,572.1 L182.3,572.0 L183.6,571.9 L184.8,571.8 L186.0,571.7 L187.2,571.6 L188.4,571.5 L189.6,571.3 L190.8,571.2 L192.0,571.1 L193.2,570.9 L194.4,570.8 L195.6,570.6 L196.8,570.5 L198.0,570.3 L199.2,570.1 L200.4,569.9 L201.6,569.8 L202.8,569.6 L204.0,569.4 L205.2,569.1 L206.4,568.9 L207.6,568.7 L208.8,568.5 L209.9,568.2 L211.1,568.0 L212.3,567.7 L213.5,567.4 L214.6,567.1 L215.8,566.8 L217.0,566.5 L218.1,566.2 L219.3,565.9 L220.4,565.6 L221.6,565.2 L222.7,564.9 L223.8,564.5 L225.0,564.1 L226.1,563.8 L227.2,563.4 L228.3,563.0 L229.5,562.5 L230.6,562.1 L231.7,561.7 L232.8,561.2 L233.9,560.7 L234.9,560.3 L236.0,559.8 L237.1,559.3 L238.2,558.7 L239.2,558.2 L240.3,557.7 L241.4,557.1 L242.4,556.5 L243.4,555.9 L244.5,555.4 L245.5,554.8 L246.5,554.1 L247.6,553.5 L248.6,552.9 L249.6,552.2 L250.6,551.6 L251.6,550.9 L252.6,550.3 L253.6,549.6 L254.6,548.9 L255.6,548.2 L256.6,547.5 L257.6,546.8 L258.5,546.1 L259.5,545.4 L260.5,544.7 L261.4,544.0 L262.4,543.2 L263.4,542.5 L264.3,541.7 L265.3,541.0 L266.2,540.2 L267.2,539.5 L268.1,538.7 L269.0,538.0 L270.0,537.2 L270.9,536.4 L271.8,535.6 L272.7,534.8 L273.6,534.0 L274.5,533.2 L275.4,532.4 L276.3,531.6 L277.2,530.8 L278.1,530.0 L279.0,529.2 L279.9,528.3 L280.7,527.5 L281.6,526.6 L282.5,525.8 L283.3,524.9 L284.2,524.1 L285.0,523.2 L285.8,522.4 L286.7,521.5 L287.5,520.6 L288.3,519.7 L289.1,518.8 L289.9,517.9 L290.7,517.0 L291.5,516.1 L292.2,515.2 L293.0,514.3 L293.8,513.4 L294.5,512.4 L295.3,511.5 L296.0,510.5 L296.8,509.6 L297.5,508.6 L298.2,507.7 L298.9,506.7 L299.6,505.8 L300.3,504.8 L301.0,503.8 L301.7,502.8 L302.4,501.9 L303.1,500.9 L303.8,499.9 L304.4,498.9 L305.1,497.9 L305.7,496.9 L306.4,495.9 L307.1,494.9 L307.7,493.9 L308.3,492.9 L309.0,491.8 L309.6,490.8 L310.2,489.8 L310.9,488.8 L311.5,487.7 L312.1,486.7 L312.7,485.7 L313.4,484.7 L314.0,483.6 L314.6,482.6 L315.2,481.6 L315.8,480.5 L316.4,479.5 L317.0,478.4 L317.6,477.4 L318.3,476.4 L318.9,475.3 L319.5,474.3 L320.1,473.2 L320.7,472.2 L321.3,471.1 L321.9,470.1 L322.5,469.1 L323.1,468.0 L323.7,467.0 L324.3,465.9 L324.9,464.9 L325.5,463.8 L326.1,462.8 L326.7,461.8 L327.3,460.7 L327.9,459.7 L328.5,458.6 L329.1,457.6 L329.7,456.5 L330.3,455.5 L330.9,454.4 L331.5,453.4 L332.1,452.3 L332.7,451.3 L333.3,450.2 L333.8,449.2 L334.4,448.1 L335.0,447.1 L335.6,446.0 L336.2,444.9 L336.7,443.9 L337.3,442.8 L337.9,441.8 L338.5,440.7 L339.0,439.6 L339.6,438.6 L340.1,437.5 L340.7,436.4 L341.3,435.4 L341.8,434.3 L342.4,433.2 L342.9,432.2 L343.4,431.1 L344.0,430.0 L344.5,428.9 L345.0,427.9 L345.6,426.8 L346.1,425.7 L346.6,424.6 L347.1,423.5 L347.6,422.4 L348.2,421.4 L348.7,420.3 L349.2,419.2 L349.7,418.1 L350.2,417.0 L350.7,415.9 L351.1,414.8 L351.6,413.7 L352.1,412.6 L352.6,411.5 L353.1,410.4 L353.6,409.3 L354.0,408.2 L354.5,407.1 L355.0,406.0 L355.4,404.9 L355.9,403.8 L356.4,402.7 L356.8,401.5 L357.3,400.4 L357.7,399.3 L358.2,398.2 L358.6,397.1 L359.1,396.0 L359.5,394.9 L360.0,393.7 L360.4,392.6 L360.9,391.5 L361.3,390.4 L361.8,389.3 L362.2,388.2 L362.7,387.0 L363.1,385.9 L363.5,384.8 L364.0,383.7 L364.4,382.6 L364.8,381.4 L365.3,380.3 L365.7,379.2 L366.2,378.1 L366.6,376.9 L367.0,375.8 L367.5,374.7 L367.9,373.6 L368.3,372.5 L368.8,371.3 L369.2,370.2 L369.6,369.1 L370.1,368.0 L370.5,366.8 L370.9,365.7 L371.4,364.6 L371.8,363.5 L372.2,362.4 L372.7,361.2 L373.1,360.1 L373.5,359.0 L374.0,357.9 L374.4,356.7 L374.9,355.6 L375.3,354.5 L375.8,353.4 L376.2,352.3 L376.7,351.2 L377.1,350.0 L377.6,348.9 L378.0,347.8 L378.5,346.7 L378.9,345.6 L379.4,344.5 L379.8,343.4 L380.3,342.2 L380.7,341.1 L381.2,340.0 L381.7,338.9 L382.1,337.8 L382.6,336.7 L383.1,335.6 L383.5,334.5 L384.0,333.4 L384.5,332.3 L384.9,331.1 L385.4,330.0 L385.9,328.9 L386.3,327.8 L386.8,326.7 L387.3,325.6 L387.8,324.5 L388.3,323.4 L388.7,322.3 L389.2,321.2 L389.7,320.1 L390.2,319.0 L390.7,317.9 L391.2,316.8 L391.7,315.7 L392.1,314.6 L392.6,313.5 L393.1,312.4 L393.6,311.3 L394.1,310.2 L394.6,309.1 L395.1,308.0 L395.6,306.9 L396.1,305.8 L396.6,304.7 L397.1,303.7 L397.6,302.6 L398.1,301.5 L398.6,300.4 L399.1,299.3 L399.6,298.2 L400.1,297.1 L400.6,296.0 L401.2,294.9 L401.7,293.8 L402.2,292.7 L402.7,291.7 L403.2,290.6 L403.7,289.5 L404.2,288.4 L404.8,287.3 L405.3,286.2 L405.8,285.1 L406.3,284.1 L406.8,283.0 L407.4,281.9 L407.9,280.8 L408.4,279.7 L408.9,278.6 L409.5,277.6 L410.0,276.5 L410.5,275.4 L411.0,274.3 L411.6,273.2 L412.1,272.1 L412.6,271.1 L413.1,270.0 L413.7,268.9 L414.2,267.8 L414.7,266.7 L415.2,265.7 L415.8,264.6 L416.3,263.5 L416.8,262.4 L417.3,261.3 L417.9,260.2 L418.4,259.2 L418.9,258.1 L419.4,257.0 L420.0,255.9 L420.5,254.8 L421.0,253.7 L421.5,252.6 L422.0,251.5 L422.6,250.5 L423.1,249.4 L423.6,248.3 L424.1,247.2 L424.7,246.1 L425.2,245.0 L425.7,244.0 L426.3,242.9 L426.8,241.8 L427.4,240.8 L427.9,239.7 L428.5,238.6 L429.0,237.6 L429.6,236.5 L430.2,235.5 L430.8,234.4 L431.4,233.4 L432.0,232.4 L432.6,231.3 L433.2,230.3 L433.9,229.3 L434.5,228.3 L435.2,227.3 L435.9,226.3 L436.6,225.3 L437.3,224.4 L438.0,223.4 L438.7,222.4 L439.4,221.5 L440.1,220.5 L440.8,219.5 L441.6,218.6 L442.3,217.7 L443.1,216.7 L443.8,215.8 L444.6,214.8 L445.3,213.9 L446.1,213.0 L446.9,212.0 L447.6,211.1 L448.4,210.2 L449.2,209.2 L449.9,208.3 L450.7,207.4 L451.4,206.4 L452.2,205.5 L453.0,204.6 L453.7,203.6 L454.5,202.7 L455.2,201.7 L455.9,200.8 L456.7,199.9 L457.4,198.9 L458.1,197.9 L458.8,197.0 L459.5,196.0 L460.3,195.1 L461.0,194.1 L461.7,193.1 L462.4,192.2 L463.1,191.2 L463.8,190.2 L464.5,189.2 L465.2,188.3 L465.9,187.3 L466.5,186.3 L467.2,185.3 L467.9,184.3 L468.6,183.4 L469.3,182.4 L470.0,181.4 L470.7,180.4 L471.4,179.4 L472.0,178.4 L472.7,177.4 L473.4,176.4 L474.1,175.4 L474.8,174.4 L475.5,173.4 L476.2,172.4 L476.9,171.5 L477.6,170.5 L478.3,169.5 L479.0,168.5 L479.8,167.5 L480.5,166.6 L481.2,165.6 L482.0,164.7 L482.8,163.8 L483.6,162.9 L484.4,162.0 L485.2,161.1 L486.0,160.2 L486.8,159.4 L487.7,158.5 L488.6,157.8 L489.5,157.2 L490.4,156.8 L491.2,156.8 L492.1,157.2 L493.0,158.1 L493.9,159.7 L494.7,159.7 L495.8,159.6 L497.0,159.4 L498.3,159.2 L499.6,158.9 L501.0,158.7 L502.3,158.5 L503.6,158.4 L504.9,158.4 L506.1,158.4 L507.2,158.6 L508.3,159.0 L509.2,159.5 L510.0,160.1 L510.7,161.0 L511.3,161.9 L511.8,162.9 L512.3,164.0 L512.8,165.1 L513.3,166.2 L513.8,167.4 L514.3,168.5 L514.8,169.6 L515.4,170.6 L516.1,171.6 L516.7,172.6 L517.4,173.5 L518.1,174.4 L518.9,175.4 L519.6,176.3 L520.3,177.2 L521.0,178.2 L521.7,179.2 L522.4,180.2 L523.0,181.2 L523.7,182.2 L524.3,183.3 L524.9,184.3 L525.5,185.4 L526.1,186.5 L526.6,187.6 L527.1,188.7 L527.6,189.8 L528.0,190.9 L528.4,192.0 L528.8,193.1 L529.1,194.3 L529.5,195.4 L529.7,196.6 L530.0,197.8 L530.2,198.9 L530.4,200.1 L530.5,201.3 L530.6,202.6 L530.7,203.8 L530.8,205.0 L530.9,206.2 L531.0,207.4 L531.1,208.6 L531.3,209.8 L531.5,211.0 L531.8,212.1 L532.1,213.3 L532.5,214.4 L533.0,215.4 L533.5,216.5 L534.2,217.5 L534.8,218.5 L535.4,219.6 L536.0,220.6 L536.4,221.7 L536.9,222.8 L537.2,223.9 L537.5,225.0 L537.8,226.2 L538.0,227.4 L538.1,228.6 L538.3,229.8 L538.4,231.0 L538.5,232.2 L538.6,233.4 L538.6,234.6 L538.7,235.9 L538.7,237.1 L538.8,238.3 L538.9,239.6 L539.0,240.8 L539.1,242.0 L539.2,243.2 L539.4,244.4 L539.6,245.6 L539.8,246.8 L540.1,247.9 L540.5,249.1 L540.9,250.2 L541.3,251.3 L541.8,252.4 L542.3,253.4 L542.9,254.4 L543.6,255.4 L544.2,256.4 L544.8,257.4 L545.4,258.4 L545.9,259.4 L546.4,260.5 L546.7,261.6 L547.0,262.7 L547.3,263.9 L547.4,265.0 L547.6,266.2 L547.7,267.4 L547.8,268.6 L547.9,269.9 L547.9,271.1 L548.0,272.3 L548.0,273.6 L548.1,274.8 L548.3,276.0 L548.4,277.2 L548.6,278.4 L548.7,279.6 L548.9,280.8 L549.1,282.0 L549.3,283.1 L549.5,284.3 L549.7,285.5 L549.9,286.7 L550.0,287.9 L550.2,289.1 L550.3,290.3 L550.4,291.5 L550.5,292.6 L550.6,293.8 L550.7,295.1 L550.7,296.3 L550.8,297.5 L550.8,298.7 L550.8,299.9 L550.8,301.1 L550.8,302.3 L550.9,303.5 L550.9,304.7 L550.8,305.9 L550.8,307.2 L550.8,308.4 L550.8,309.6 L550.8,310.8 L550.8,312.0 L550.8,313.3 L550.8,314.5 L550.8,315.7 L550.8,316.9 L550.8,318.1 L550.8,319.3 L550.8,320.6 L550.8,321.8 L550.9,323.0 L550.9,324.2 L551.0,325.4 L551.0,326.6 L551.1,327.8 L551.2,329.0 L551.3,330.2 L551.5,331.4 L551.6,332.6 L551.8,333.8 L552.0,335.0 L552.2,336.1 L552.4,337.3 L552.6,338.5 L552.9,339.7 L553.2,340.8 L553.5,342.0 L553.9,343.1 L554.3,344.2 L554.8,345.3 L555.3,346.3 L555.9,347.3 L556.6,348.3 L557.3,349.2 L558.1,350.0 L559.0,350.8 L559.9,351.5 L561.0,352.2 L562.1,352.8 L563.2,353.4 L564.3,354.0 L565.3,354.7 L566.4,355.3 L567.4,356.0 L568.4,356.8 L569.3,357.5 L570.2,358.3 L571.1,359.2 L571.9,360.0 L572.7,360.9 L573.5,361.8 L574.3,362.7 L575.1,363.7 L575.8,364.6 L576.6,365.5 L577.4,366.4 L578.2,367.3 L579.1,368.2 L579.9,369.1 L580.8,369.9 L581.7,370.7 L582.6,371.4 L583.6,372.1 L584.6,372.7 L585.6,373.3 L586.6,373.7 L587.7,374.1 L588.9,374.5 L590.0,374.7 L591.2,374.9 L592.5,375.1 L593.7,375.2 L594.9,375.3 L596.2,375.4 L597.4,375.4 L598.6,375.5 L599.8,375.6 L601.1,375.7 L602.3,375.8 L603.5,375.9 L604.7,376.1 L605.9,376.2 L607.1,376.3 L608.3,376.4 L609.5,376.5 L610.7,376.6 L611.9,376.8 L613.1,376.9 L614.3,377.0 L615.5,377.1 L616.7,377.2 L617.9,377.4 L619.1,377.5 L620.3,377.6 L621.5,377.7 L622.7,377.8 L623.9,378.0 L625.1,378.1 L626.2,378.2 L627.4,378.3 L628.6,378.4 L629.8,378.5 L631.0,378.6 L632.3,378.7 L633.5,378.8 L634.7,378.8 L635.9,378.9 L637.1,379.0 L638.3,379.1 L639.5,379.1 L640.7,379.2 L641.9,379.3 L643.1,379.3 L644.3,379.4 L645.5,379.4 L646.7,379.5 L647.9,379.5 L649.1,379.6 L650.4,379.6 L651.6,379.6 L652.8,379.6 L654.0,379.6 L655.2,379.7 L656.4,379.7 L657.6,379.7 L658.8,379.7 L660.0,379.7 L661.2,379.6 L662.4,379.6 L663.6,379.6 L664.8,379.6 L666.0,379.5 L667.2,379.5" stroke="#3ab572"/>
<path d="M135.0,573.4 L136.2,573.4 L137.4,573.3 L138.6,573.2 L139.8,573.1 L141.0,573.1 L142.2,573.0 L143.4,573.0 L144.6,572.9 L145.8,572.9 L147.0,572.9 L148.2,572.8 L149.4,572.8 L150.6,572.8 L151.8,572.7 L153.0,572.7 L154.2,572.6 L155.4,572.6 L156.6,572.6 L157.9,572.5 L159.1,572.5 L160.3,572.4 L161.5,572.4 L162.7,572.3 L163.9,572.2 L165.1,572.2 L166.3,572.1 L167.5,572.0 L168.7,571.9 L169.9,571.8 L171.1,571.7 L172.3,571.6 L173.5,571.5 L174.7,571.4 L175.9,571.2 L177.1,571.1 L178.3,570.9 L179.5,570.7 L180.7,570.5 L181.8,570.3 L183.0,570.1 L184.2,569.9 L185.4,569.7 L186.5,569.4 L187.7,569.2 L188.9,568.9 L190.1,568.6 L191.2,568.3 L192.4,568.0 L193.5,567.7 L194.7,567.4 L195.9,567.1 L197.0,566.7 L198.2,566.4 L199.3,566.0 L200.5,565.7 L201.6,565.3 L202.8,564.9 L203.9,564.6 L205.0,564.2 L206.2,563.8 L207.3,563.4 L208.5,563.0 L209.6,562.6 L210.7,562.2 L211.9,561.8 L213.0,561.3 L214.1,560.9 L215.3,560.5 L216.4,560.1 L217.5,559.6 L218.6,559.2 L219.8,558.7 L220.9,558.3 L222.0,557.9 L223.1,557.4 L224.2,556.9 L225.3,556.5 L226.5,556.0 L227.6,555.6 L228.7,555.1 L229.8,554.6 L230.9,554.1 L232.0,553.6 L233.1,553.1 L234.2,552.6 L235.3,552.1 L236.4,551.6 L237.4,551.1 L238.5,550.6 L239.6,550.1 L240.7,549.5 L241.7,549.0 L242.8,548.4 L243.9,547.9 L244.9,547.3 L246.0,546.7 L247.0,546.2 L248.1,545.6 L249.1,545.0 L250.2,544.4 L251.2,543.8 L252.2,543.1 L253.2,542.5 L254.2,541.9 L255.3,541.2 L256.3,540.6 L257.3,539.9 L258.3,539.3 L259.3,538.6 L260.3,537.9 L261.2,537.2 L262.2,536.5 L263.2,535.8 L264.2,535.1 L265.1,534.4 L266.1,533.7 L267.1,532.9 L268.0,532.2 L269.0,531.5 L269.9,530.7 L270.9,530.0 L271.8,529.2 L272.8,528.5 L273.7,527.7 L274.6,526.9 L275.5,526.2 L276.5,525.4 L277.4,524.6 L278.3,523.8 L279.2,523.0 L280.1,522.2 L281.0,521.5 L281.9,520.7 L282.8,519.8 L283.7,519.0 L284.6,518.2 L285.5,517.4 L286.4,516.6 L287.3,515.8 L288.2,515.0 L289.1,514.1 L289.9,513.3 L290.8,512.5 L291.7,511.6 L292.5,510.8 L293.4,510.0 L294.2,509.1 L295.1,508.3 L295.9,507.4 L296.8,506.5 L297.6,505.7 L298.4,504.8 L299.3,504.0 L300.1,503.1 L300.9,502.2 L301.7,501.3 L302.5,500.4 L303.4,499.6 L304.2,498.7 L304.9,497.8 L305.7,496.9 L306.5,496.0 L307.3,495.0 L308.1,494.1 L308.9,493.2 L309.6,492.3 L310.4,491.4 L311.1,490.4 L311.9,489.5 L312.6,488.6 L313.4,487.6 L314.1,486.7 L314.8,485.7 L315.6,484.8 L316.3,483.8 L317.0,482.8 L317.7,481.8 L318.4,480.9 L319.1,479.9 L319.8,478.9 L320.4,477.9 L321.1,476.9 L321.8,475.9 L322.4,474.9 L323.1,473.9 L323.7,472.9 L324.4,471.9 L325.0,470.8 L325.7,469.8 L326.3,468.8 L326.9,467.8 L327.6,466.7 L328.2,465.7 L328.8,464.6 L329.4,463.6 L330.1,462.6 L330.7,461.5 L331.3,460.5 L331.9,459.5 L332.5,458.4 L333.2,457.4 L333.8,456.3 L334.4,455.3 L335.0,454.3 L335.6,453.2 L336.3,452.2 L336.9,451.2 L337.5,450.2 L338.1,449.1 L338.8,448.1 L339.4,447.1 L340.1,446.1 L340.7,445.1 L341.4,444.1 L342.0,443.1 L342.7,442.1 L343.3,441.1 L344.0,440.1 L344.7,439.1 L345.3,438.1 L346.0,437.1 L346.7,436.1 L347.3,435.1 L348.0,434.1 L348.6,433.1 L349.3,432.1 L350.0,431.1 L350.6,430.1 L351.3,429.1 L351.9,428.1 L352.6,427.1 L353.2,426.1 L353.8,425.0 L354.5,424.0 L355.1,423.0 L355.7,422.0 L356.4,420.9 L357.0,419.9 L357.6,418.9 L358.2,417.9 L358.9,416.8 L359.5,415.8 L360.1,414.8 L360.7,413.7 L361.3,412.7 L361.9,411.7 L362.6,410.6 L363.2,409.6 L363.8,408.5 L364.4,407.5 L365.0,406.5 L365.6,405.4 L366.3,404.4 L366.9,403.4 L367.5,402.3 L368.1,401.3 L368.7,400.3 L369.4,399.2 L370.0,398.2 L370.6,397.2 L371.2,396.1 L371.8,395.1 L372.5,394.1 L373.1,393.1 L373.7,392.0 L374.3,391.0 L374.9,390.0 L375.5,388.9 L376.2,387.9 L376.8,386.8 L377.4,385.8 L378.0,384.8 L378.6,383.7 L379.2,382.7 L379.8,381.7 L380.4,380.6 L381.0,379.6 L381.6,378.5 L382.2,377.5 L382.8,376.5 L383.4,375.4 L384.0,374.4 L384.6,373.3 L385.2,372.3 L385.8,371.2 L386.4,370.2 L386.9,369.1 L387.5,368.1 L388.1,367.0 L388.7,366.0 L389.2,364.9 L389.8,363.8 L390.4,362.8 L391.0,361.7 L391.5,360.7 L392.1,359.6 L392.6,358.5 L393.2,357.5 L393.8,356.4 L394.3,355.3 L394.9,354.3 L395.4,353.2 L396.0,352.1 L396.5,351.1 L397.1,350.0 L397.7,348.9 L398.2,347.9 L398.8,346.8 L399.3,345.7 L399.9,344.7 L400.4,343.6 L401.0,342.5 L401.5,341.5 L402.1,340.4 L402.7,339.3 L403.2,338.3 L403.8,337.2 L404.3,336.1 L404.9,335.1 L405.5,334.0 L406.0,332.9 L406.6,331.9 L407.2,330.8 L407.8,329.8 L408.3,328.7 L408.9,327.6 L409.5,326.6 L410.1,325.5 L410.7,324.5 L411.3,323.4 L411.9,322.4 L412.5,321.3 L413.0,320.3 L413.7,319.3 L414.3,318.2 L414.9,317.2 L415.5,316.2 L416.1,315.1 L416.7,314.1 L417.3,313.0 L417.9,312.0 L418.5,311.0 L419.2,309.9 L419.8,308.9 L420.4,307.9 L421.0,306.8 L421.6,305.8 L422.2,304.7 L422.7,303.7 L423.3,302.6 L423.9,301.6 L424.5,300.5 L425.0,299.4 L425.6,298.4 L426.1,297.3 L426.7,296.2 L427.2,295.2 L427.8,294.1 L428.3,293.0 L428.9,292.0 L429.4,290.9 L430.0,289.8 L430.6,288.8 L431.2,287.7 L431.8,286.7 L432.4,285.6 L433.0,284.6 L433.6,283.6 L434.2,282.6 L434.9,281.5 L435.5,280.5 L436.1,279.5 L436.8,278.5 L437.5,277.5 L438.1,276.5 L438.8,275.5 L439.5,274.5 L440.1,273.5 L440.8,272.5 L441.5,271.5 L442.2,270.5 L442.8,269.5 L443.5,268.5 L444.2,267.5 L444.8,266.5 L445.5,265.5 L446.2,264.5 L446.8,263.4 L447.5,262.4 L448.1,261.4 L448.7,260.4 L449.3,259.4 L450.0,258.3 L450.6,257.3 L451.2,256.2 L451.8,255.2 L452.3,254.2 L452.9,253.1 L453.5,252.1 L454.1,251.0 L454.7,250.0 L455.3,248.9 L455.9,247.9 L456.4,246.8 L457.0,245.8 L457.6,244.7 L458.2,243.7 L458.8,242.6 L459.5,241.6 L460.1,240.6 L460.7,239.6 L461.3,238.5 L462.0,237.5 L462.7,236.5 L463.3,235.5 L464.0,234.5 L464.7,233.5 L465.4,232.6 L466.1,231.6 L466.8,230.6 L467.5,229.6 L468.2,228.7 L469.0,227.7 L469.7,226.7 L470.4,225.8 L471.2,224.8 L471.9,223.9 L472.7,222.9 L473.4,222.0 L474.2,221.0 L475.0,220.1 L475.7,219.2 L476.5,218.2 L477.2,217.3 L478.0,216.4 L478.8,215.4 L479.5,214.5 L480.3,213.6 L481.1,212.6 L481.8,211.7 L482.6,210.8 L483.4,209.9 L484.1,208.9 L484.9,208.0 L485.6,207.1 L486.4,206.2 L487.1,205.2 L487.9,204.3 L488.7,203.4 L489.4,202.5 L490.2,201.6 L491.0,200.7 L491.8,199.8 L492.6,198.9 L493.4,198.0 L494.2,197.2 L495.0,196.3 L495.8,195.5 L496.7,194.6 L497.5,193.8 L498.4,193.0 L499.3,192.2 L500.2,191.4 L501.2,190.6 L502.1,189.8 L503.1,189.1 L504.1,188.3 L505.1,187.6 L506.2,186.9 L507.3,186.2 L508.3,185.6 L509.4,185.0 L510.5,184.4 L511.7,184.0 L512.8,183.6 L513.9,183.4 L515.0,183.2 L516.1,183.2 L517.1,183.4 L518.1,183.7 L519.2,184.1 L520.1,184.8 L521.1,185.5 L522.1,186.2 L523.2,186.9 L524.3,187.4 L525.5,187.8 L526.7,188.1 L527.9,188.3 L529.0,188.3 L530.2,188.2 L531.3,188.1 L532.5,187.8 L533.6,187.5 L534.7,187.1 L535.8,186.6 L536.9,186.1 L538.0,185.5 L539.0,185.0 L540.1,184.3 L541.1,183.7 L542.1,183.0 L543.1,182.3 L544.1,181.6 L545.1,180.9 L546.1,180.2 L547.0,179.4 L548.0,178.8 L548.9,178.1 L549.7,179.5 L550.9,180.2 L552.3,180.2 L553.8,180.1 L555.2,180.1 L556.5,180.5 L557.4,181.8 L557.5,183.0 L557.6,184.2 L557.7,185.4 L557.7,186.6 L557.8,187.9 L557.8,189.1 L557.9,190.3 L557.9,191.5 L558.0,192.7 L558.0,194.0 L558.0,195.2 L558.0,196.4 L558.1,197.6 L558.1,198.8 L558.1,200.1 L558.1,201.3 L558.2,202.5 L558.2,203.7 L558.3,205.0 L558.3,206.2 L558.4,207.4 L558.5,208.6 L558.6,209.8 L558.7,211.0 L558.8,212.3 L558.9,213.5 L559.1,214.7 L559.3,215.9 L559.5,217.1 L559.7,218.3 L560.0,219.4 L560.3,220.6 L560.6,221.7 L561.1,222.9 L561.5,224.0 L562.0,225.0 L562.6,226.1 L563.2,227.1 L563.9,228.2 L564.6,229.2 L565.3,230.2 L566.0,231.2 L566.6,232.2 L567.1,233.3 L567.6,234.4 L568.2,235.4 L568.8,236.4 L569.4,237.4 L570.2,238.3 L570.9,239.2 L571.8,240.0 L572.7,240.8 L573.6,241.6 L574.5,242.3 L575.4,243.1 L576.0,244.0 L576.6,245.0 L577.0,246.1 L577.3,247.3 L577.6,248.5 L577.8,249.7 L577.9,251.0 L578.1,252.2 L578.3,253.4 L578.6,254.6 L578.9,255.8 L579.4,256.9 L579.9,257.9 L580.6,258.9 L581.4,259.8 L582.2,260.7 L583.1,261.5 L584.0,262.4 L584.9,263.2 L585.8,264.1 L586.6,265.0 L587.3,265.9 L588.1,266.9 L588.8,267.9 L589.6,268.8 L590.4,269.7 L591.2,270.5 L591.9,271.4 L592.6,272.4 L593.1,273.4 L593.6,274.5 L594.0,275.6 L594.3,276.8 L594.6,277.9 L594.9,279.1 L595.2,280.3 L595.5,281.5 L595.7,282.7 L596.0,283.9 L596.2,285.2 L596.5,286.4 L596.7,287.6 L596.9,288.8 L597.1,290.0 L597.3,291.2 L597.4,292.4 L597.6,293.6 L597.7,294.8 L597.8,296.0 L598.9,296.4 L600.1,297.0 L601.2,297.5 L602.3,297.9 L603.4,298.4 L604.5,298.8 L605.7,299.2 L606.8,299.5 L608.0,299.9 L609.1,300.2 L610.3,300.4 L611.5,300.7 L612.7,300.9 L613.8,301.0 L615.0,301.2 L616.3,301.3 L617.5,301.4 L618.7,301.5 L619.9,301.6 L621.1,301.6 L622.3,301.7 L623.5,301.8 L624.8,301.8 L626.0,301.9 L627.2,302.0 L628.4,302.1 L629.6,302.2 L630.8,302.3 L632.0,302.5 L633.2,302.6 L634.4,302.8 L635.6,302.9 L636.8,303.1 L638.0,303.3 L639.2,303.5 L640.4,303.8 L641.6,304.0 L642.8,304.2 L644.0,304.5 L645.2,304.7 L646.4,304.9 L647.6,305.0 L648.8,305.1 L650.0,305.2 L651.2,305.2 L652.4,305.2 L653.6,305.2 L654.8,305.2 L656.0,305.1 L657.2,305.1 L658.5,305.0 L659.7,305.0 L660.9,304.9 L662.1,304.9 L663.3,304.8 L664.5,304.8 L665.7,304.7 L667.0,304.6 L668.2,304.6 L669.4,304.5 L670.6,304.5 L671.8,304.4 L673.1,304.3 L674.3,304.3 L675.5,304.2 L676.7,304.1 L677.9,304.0 L679.1,304.0 L680.3,303.9 L681.6,303.9 L682.8,303.9 L684.0,303.9 L685.2,303.9 L686.4,304.0 L687.5,304.2 L688.7,304.4 L689.9,304.6 L691.1,304.9 L692.2,305.3 L693.4,305.6 L694.5,306.0 L695.7,306.3 L696.9,306.6 L698.1,306.8 L699.2,306.9 L700.4,306.9 L701.6,306.8 L702.8,306.7 L704.0,306.5 L705.2,306.3 L706.4,306.1 L707.6,305.8 L708.8,305.6 L710.0,305.5 L711.2,305.4 L712.4,305.3 L713.6,305.3 L714.7,305.4 L715.9,305.5 L717.1,305.6 L718.3,305.8 L719.5,305.9 L720.7,306.0 L722.0,306.2" stroke="#bf7fe4"/>
</g>
<path d="M101.10,574.0 V562.4 M178.83,574.0 V562.4 M256.57,574.0 V562.4 M334.30,574.0 V562.4 M412.03,574.0 V562.4 M489.77,574.0 V562.4 M567.50,574.0 V562.4 M645.23,574.0 V562.4 M722.97,574.0 V562.4 M800.70,574.0 V562.4 M139.97,574.0 V568.0 M217.70,574.0 V568.0 M295.43,574.0 V568.0 M373.17,574.0 V568.0 M450.90,574.0 V568.0 M528.63,574.0 V568.0 M606.37,574.0 V568.0 M684.10,574.0 V568.0 M761.83,574.0 V568.0 M101.1,574.00 H112.69999999999999 M101.1,493.57 H112.69999999999999 M101.1,413.14 H112.69999999999999 M101.1,332.71 H112.69999999999999 M101.1,252.29 H112.69999999999999 M101.1,171.86 H112.69999999999999 M101.1,91.43 H112.69999999999999 M101.1,11.00 H112.69999999999999 M101.1,533.79 H107.1 M101.1,453.36 H107.1 M101.1,372.93 H107.1 M101.1,292.50 H107.1 M101.1,212.07 H107.1 M101.1,131.64 H107.1 M101.1,51.21 H107.1" stroke="#111" stroke-width="2.2" fill="none"/>
<rect x="101.1" y="10.8" width="699.4" height="563.2" fill="none" stroke="#111" stroke-width="2.4"/>
<g font-size="28.6"><text transform="translate(101.10,607.7) scale(0.93,1)" text-anchor="middle">0.0</text><text transform="translate(178.83,607.7) scale(0.93,1)" text-anchor="middle">0.2</text><text transform="translate(256.57,607.7) scale(0.93,1)" text-anchor="middle">0.4</text><text transform="translate(334.30,607.7) scale(0.93,1)" text-anchor="middle">0.6</text><text transform="translate(412.03,607.7) scale(0.93,1)" text-anchor="middle">0.8</text><text transform="translate(489.77,607.7) scale(0.93,1)" text-anchor="middle">1.0</text><text transform="translate(567.50,607.7) scale(0.93,1)" text-anchor="middle">1.2</text><text transform="translate(645.23,607.7) scale(0.93,1)" text-anchor="middle">1.4</text><text transform="translate(722.97,607.7) scale(0.93,1)" text-anchor="middle">1.6</text><text transform="translate(800.70,607.7) scale(0.93,1)" text-anchor="middle">1.8</text><text transform="translate(88.0,582.10) scale(0.93,1)" text-anchor="end">0.00</text><text transform="translate(88.0,501.67) scale(0.93,1)" text-anchor="end">0.05</text><text transform="translate(88.0,421.24) scale(0.93,1)" text-anchor="end">0.10</text><text transform="translate(88.0,340.81) scale(0.93,1)" text-anchor="end">0.15</text><text transform="translate(88.0,260.39) scale(0.93,1)" text-anchor="end">0.20</text><text transform="translate(88.0,179.96) scale(0.93,1)" text-anchor="end">0.25</text><text transform="translate(88.0,99.53) scale(0.93,1)" text-anchor="end">0.30</text><text transform="translate(88.0,19.10) scale(0.93,1)" text-anchor="end">0.35</text></g>
<g font-size="32"><path d="M621,43.7 H696" stroke="#4a4a4a" stroke-width="2.7" fill="none"/><text transform="translate(701.3,54.1) scale(1.025,1)">Drying</text><path d="M621,83.2 H696" stroke="#fb4545" stroke-width="2.7" fill="none"/><text transform="translate(701.3,93.6) scale(1.025,1)">0.52%</text><path d="M621,122.7 H696" stroke="#176ae5" stroke-width="2.7" fill="none"/><text transform="translate(701.3,133.1) scale(1.025,1)">2.56%</text><path d="M621,162.1 H696" stroke="#3ab572" stroke-width="2.7" fill="none"/><text transform="translate(701.3,172.5) scale(1.025,1)">5.01%</text><path d="M621,201.8 H696" stroke="#bf7fe4" stroke-width="2.7" fill="none"/><text transform="translate(701.3,212.2) scale(1.025,1)">7.33%</text></g>
<g font-size="33"><text transform="translate(29,434.6) rotate(-90) scale(0.983,1)">Strain Energy/</text><text transform="translate(29,246.8) rotate(-90) scale(0.962,1)">MJ&#183;m</text><text transform="translate(15.6,171.7) rotate(-90) scale(1.04,1)" font-size="21">-1</text><path d="M430.2,632.1 C429,630.2 426,629.5 423.5,630.3 C421.3,631 420.4,633.2 421.2,635.2 C421.8,636.6 423.4,637.2 426.8,637.1" fill="none" stroke="#111" stroke-width="2.0" stroke-linecap="round"/><path d="M424,637.3 C420.5,637.4 417.4,639 417.1,641.6 C416.9,644 418.6,645.1 420.8,645.1 C423.8,645 426.6,643.4 428,641.3" fill="none" stroke="#111" stroke-width="2.5" stroke-linecap="round"/><circle cx="429.9" cy="632.0" r="1.5" fill="#111"/><text transform="translate(430.6,652.6) scale(0.8,1)" font-size="21">1</text><path d="M445.4,645.3 L453.3,622.6" stroke="#111" stroke-width="1.35"/><text x="460.6" y="645.4" font-size="34">%</text></g>
</svg>
</body></html>
